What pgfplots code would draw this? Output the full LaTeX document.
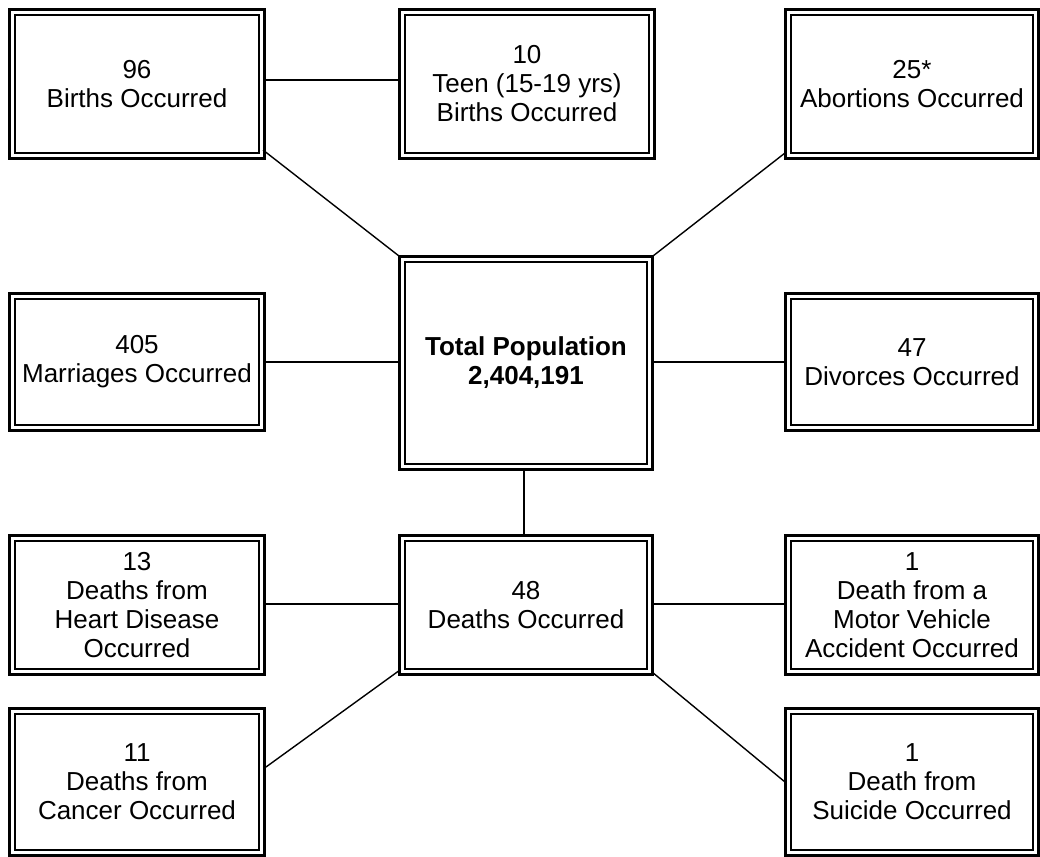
\documentclass[border=0pt]{standalone}
\usepackage{pgfplots}
\pgfplotsset{compat=1.18}
\usepackage{fontspec}
\setmainfont{Liberation Sans}

% double-ruled box: thick outer rule, thin inner rule (pixel coords of outer edge)
\newcommand{\dbox}[4]{%
  \pgfmathsetmacro\ax{#1+1.5}\pgfmathsetmacro\ay{#2+1.5}%
  \pgfmathsetmacro\bx{#3-1.5}\pgfmathsetmacro\by{#4-1.5}%
  \pgfmathsetmacro\cx{#1+7}\pgfmathsetmacro\cy{#2+7}%
  \pgfmathsetmacro\dx{#3-7}\pgfmathsetmacro\dy{#4-7}%
  \edef\tmp{\noexpand\addplot[black, line width=1.5pt, line cap=rect, line join=miter]
    coordinates {(\ax,\ay) (\bx,\ay) (\bx,\by) (\ax,\by) (\ax,\ay)};
    \noexpand\addplot[black, line width=0.75pt, line cap=rect, line join=miter]
    coordinates {(\cx,\cy) (\dx,\cy) (\dx,\dy) (\cx,\dy) (\cx,\cy)};}%
  \tmp}

\tikzset{lbl/.style={font=\fontsize{13}{14.5}\selectfont, align=center, inner sep=0pt}}

\begin{document}
\begin{tikzpicture}
\begin{axis}[
  width=520pt, height=428.5pt, scale only axis,
  xmin=0, xmax=1040, ymin=0, ymax=857, y dir=reverse,
  hide axis, clip=false,
]
% invisible frame so the page keeps the full canvas
\addplot[draw=none, forget plot] coordinates {(0,0) (1040,857)};

% connectors
\pgfplotsset{conn/.style={black, line width=0.7pt, forget plot}}
\addplot[conn] coordinates {(266,80) (398,80)};
\addplot[conn] coordinates {(263,150) (399,256)};
\addplot[conn] coordinates {(785,153) (653,256)};
\addplot[conn] coordinates {(266,362) (398,362)};
\addplot[conn] coordinates {(654,362) (784,362)};
\addplot[conn] coordinates {(524,471) (524,534)};
\addplot[conn] coordinates {(266,604) (398,604)};
\addplot[conn] coordinates {(654,604) (784,604)};
\addplot[conn] coordinates {(400,670) (266,767)};
\addplot[conn] coordinates {(652,672) (785,782)};

% boxes
\dbox{8}{8}{266}{160}
\dbox{398}{8}{656}{160}
\dbox{784}{8}{1040}{160}
\dbox{398}{255}{654}{471}
\dbox{8}{292}{266}{432}
\dbox{784}{292}{1040}{432}
\dbox{8}{534}{266}{676}
\dbox{398}{534}{654}{676}
\dbox{784}{534}{1040}{676}
\dbox{8}{707}{266}{857}
\dbox{784}{707}{1040}{857}

% labels
\node[lbl] at (axis cs:137,84) {96\\Births Occurred};
\node[lbl] at (axis cs:527,84) {10\\Teen (15-19 yrs)\\Births Occurred};
\node[lbl] at (axis cs:912,84) {25*\\Abortions Occurred};
\node[lbl] at (axis cs:526,363) {\bfseries Total Population\\\bfseries 2,404,191};
\node[lbl] at (axis cs:137,362) {405\\Marriages Occurred};
\node[lbl] at (axis cs:912,362) {47\\Divorces Occurred};
\node[lbl] at (axis cs:137,605) {13\\Deaths from\\Heart Disease\\Occurred};
\node[lbl] at (axis cs:526,605) {48\\Deaths Occurred};
\node[lbl] at (axis cs:912,605) {1\\Death from a\\Motor Vehicle\\Accident Occurred};
\node[lbl] at (axis cs:137,782) {11\\Deaths from\\Cancer Occurred};
\node[lbl] at (axis cs:912,782) {1\\Death from\\Suicide Occurred};
\end{axis}
\end{tikzpicture}
\end{document}
